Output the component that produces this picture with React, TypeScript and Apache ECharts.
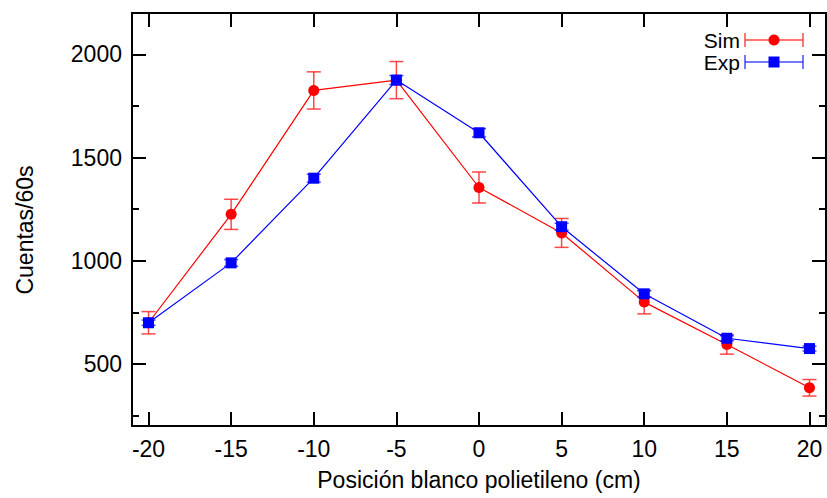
import React, { useEffect, useRef } from "react";
import * as echarts from "echarts";

const positions = [-20, -15, -10, -5, 0, 5, 10, 15, 20];
const simCounts = [700, 1225, 1825, 1875, 1355, 1135, 800, 595, 385];
const simErrors = [54, 73, 90, 90, 75, 70, 57, 47, 40];
const expCounts = [700, 990, 1400, 1875, 1620, 1165, 840, 625, 575];
const expErrors = [13, 16, 19, 22, 20, 17, 15, 12, 12];
const xTicks = [-20, -15, -10, -5, 0, 5, 10, 15, 20];
const yMajorTicks = [500, 1000, 1500, 2000];
const yMinorTicks = [250, 750, 1250, 1750];

const FONT = "Liberation Sans";
const FS = 23;

function errorBarSeries(name: string, xs: number[], ys: number[], es: number[], color: string, z: number) {
  return {
    type: "custom",
    name: name + "-err",
    z,
    silent: true,
    data: xs.map((x, i) => [x, ys[i], es[i]]),
    encode: { x: 0, y: 1 },
    renderItem: (params: any, api: any) => {
      const x = api.value(0);
      const y = api.value(1);
      const e = api.value(2);
      const top = api.coord([x, y + e]);
      const bot = api.coord([x, y - e]);
      const hw = 7;
      const style = { stroke: color, lineWidth: 1.5 };
      return {
        type: "group",
        children: [
          { type: "line", shape: { x1: top[0], y1: top[1], x2: bot[0], y2: bot[1] }, style },
          { type: "line", shape: { x1: top[0] - hw, y1: top[1], x2: top[0] + hw, y2: top[1] }, style },
          { type: "line", shape: { x1: bot[0] - hw, y1: bot[1], x2: bot[0] + hw, y2: bot[1] }, style },
        ],
      };
    },
  };
}

export default function App() {
  const ref = useRef<HTMLDivElement>(null);
  useEffect(() => {
    if (!ref.current) return;
    const chart = echarts.init(ref.current, undefined, { renderer: "svg" });
    const axisLine = { show: true, onZero: false, lineStyle: { color: "#000", width: 2 } };
    const tickStyle = { color: "#000", width: 2 };
    const legendY1 = 40;
    const legendY2 = 62;
    const lx1 = 745;
    const lx2 = 803;
    const lm = 774;
    const legendItem = (y: number, errColor: string, marker: any, label: string) => ({
      type: "group",
      children: [
        { type: "line", shape: { x1: lx1, y1: y, x2: lx2, y2: y }, style: { stroke: errColor, lineWidth: 1.5 } },
        { type: "line", shape: { x1: lx1, y1: y - 7, x2: lx1, y2: y + 7 }, style: { stroke: errColor, lineWidth: 1.5 } },
        { type: "line", shape: { x1: lx2, y1: y - 7, x2: lx2, y2: y + 7 }, style: { stroke: errColor, lineWidth: 1.5 } },
        marker,
        {
          type: "text",
          x: 740,
          y,
          style: {
            text: label,
            fontFamily: FONT,
            fontSize: 21,
            lineHeight: 21,
            fill: "#000",
            align: "right",
            verticalAlign: "middle",
          },
        },
      ],
    });
    const fmt = (v: number) => String(v);
    chart.setOption({
      animation: false,
      backgroundColor: "#fff",
      grid: { left: 132, right: 1, top: 13, bottom: 72 },
      xAxis: [
        {
          type: "value",
          position: "bottom",
          min: -21,
          max: 21,
          axisLine,
          splitLine: { show: false },
          axisTick: { show: true, inside: true, length: 14, lineStyle: tickStyle, customValues: xTicks },
          axisLabel: { show: true, customValues: xTicks, formatter: fmt, fontFamily: FONT, fontSize: FS, color: "#000", margin: 11 },
          name: "Posición blanco polietileno (cm)",
          nameLocation: "middle",
          nameGap: 42,
          nameTextStyle: { fontFamily: FONT, fontSize: FS, color: "#000" },
        },
        {
          type: "value",
          position: "top",
          min: -21,
          max: 21,
          axisLine,
          splitLine: { show: false },
          axisTick: { show: true, inside: true, length: 14, lineStyle: tickStyle, customValues: xTicks },
          axisLabel: { show: false },
        },
      ],
      yAxis: [
        {
          type: "value",
          position: "left",
          min: 200,
          max: 2200,
          axisLine,
          splitLine: { show: false },
          axisTick: { show: true, inside: true, length: 14, lineStyle: tickStyle, customValues: yMajorTicks },
          axisLabel: { show: true, customValues: yMajorTicks, formatter: fmt, fontFamily: FONT, fontSize: FS, color: "#000", margin: 10 },
        },
        {
          type: "value",
          position: "left",
          min: 200,
          max: 2200,
          axisLine,
          splitLine: { show: false },
          axisTick: { show: true, inside: true, length: 7, lineStyle: tickStyle, customValues: yMinorTicks },
          axisLabel: { show: false },
        },
        {
          type: "value",
          position: "right",
          min: 200,
          max: 2200,
          axisLine,
          splitLine: { show: false },
          axisTick: { show: true, inside: true, length: 14, lineStyle: tickStyle, customValues: yMajorTicks },
          axisLabel: { show: false },
        },
        {
          type: "value",
          position: "right",
          min: 200,
          max: 2200,
          axisLine,
          splitLine: { show: false },
          axisTick: { show: true, inside: true, length: 7, lineStyle: tickStyle, customValues: yMinorTicks },
          axisLabel: { show: false },
        },
      ],
      series: [
        errorBarSeries("Sim", positions, simCounts, simErrors, "rgba(255,40,40,0.85)", 2),
        {
          type: "line",
          name: "Sim",
          z: 3,
          data: positions.map((x, i) => [x, simCounts[i]]),
          symbol: "circle",
          symbolSize: 11,
          itemStyle: { color: "#ff0000" },
          lineStyle: { color: "#ff0000", width: 1.2 },
        },
        errorBarSeries("Exp", positions, expCounts, expErrors, "rgba(40,40,255,0.85)", 4),
        {
          type: "line",
          name: "Exp",
          z: 5,
          data: positions.map((x, i) => [x, expCounts[i]]),
          symbol: "rect",
          symbolSize: 11,
          itemStyle: { color: "#0000ff" },
          lineStyle: { color: "#0000ff", width: 1.2 },
        },
      ],
      graphic: [
        {
          type: "text",
          x: 25,
          y: 230,
          rotation: Math.PI / 2,
          style: {
            text: "Cuentas/60s",
            fontFamily: FONT,
            fontSize: FS,
            fill: "#000",
            align: "center",
            verticalAlign: "middle",
          },
        },
        legendItem(legendY1, "rgba(255,40,40,0.85)", { type: "circle", shape: { cx: lm, cy: legendY1, r: 5.5 }, style: { fill: "#ff0000" } }, "Sim"),
        legendItem(legendY2, "rgba(40,40,255,0.85)", { type: "rect", shape: { x: lm - 5.5, y: legendY2 - 5.5, width: 11, height: 11 }, style: { fill: "#0000ff" } }, "Exp"),
      ],
    });
    return () => chart.dispose();
  }, []);
  return <div ref={ref} style={{ position: "fixed", left: 0, top: 0, width: 827, height: 498 }} />;
}
